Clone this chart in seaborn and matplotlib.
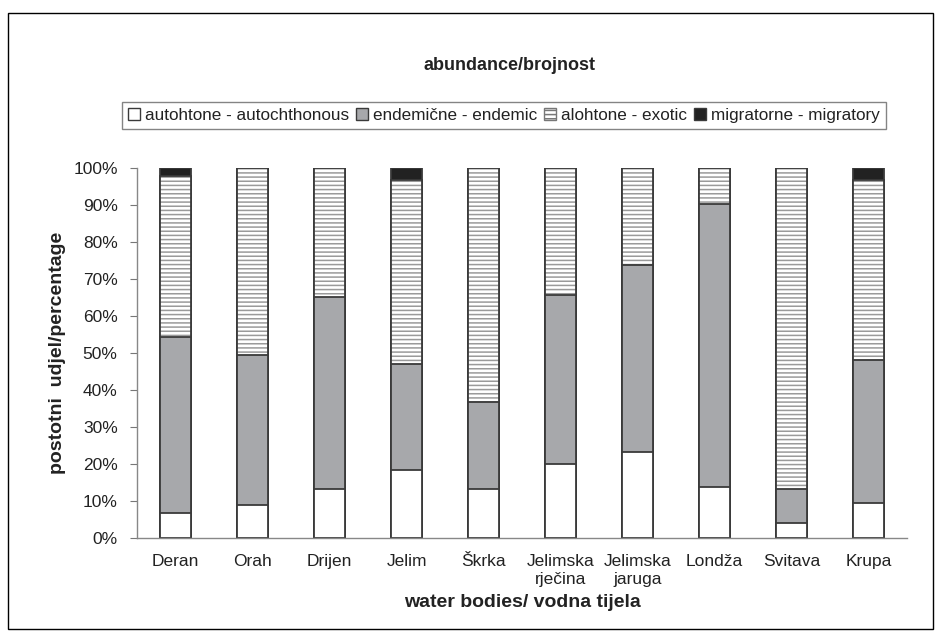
import numpy as np
import pandas as pd
import seaborn as sns
import matplotlib.pyplot as plt
from matplotlib.patches import Patch, Rectangle

# percentages (stacked, per water body)
sites = ['Deran', 'Orah', 'Drijen', 'Jelim', 'Škrka', 'Jelimska\nrječina',
         'Jelimska\njaruga', 'Londža', 'Svitava', 'Krupa']
autochthonous = [6.7, 8.9, 13.2, 18.4, 13.4, 20.2, 23.2, 13.9, 4.0, 9.4]
endemic = [47.7, 40.6, 52.0, 28.8, 23.4, 45.5, 50.6, 76.4, 9.4, 38.7]
exotic = [43.4, 50.5, 34.8, 49.6, 63.2, 34.3, 26.2, 9.7, 86.6, 48.7]
migratory = [2.2, 0.0, 0.0, 3.2, 0.0, 0.0, 0.0, 0.0, 0.0, 3.2]

legend_labels = ['autohtone - autochthonous', 'endemične - endemic',
                 'alohtone - exotic', 'migratorne - migratory']

df = pd.DataFrame({'site': sites, 'auto': autochthonous, 'end': endemic,
                   'exo': exotic, 'mig': migratory})
df['c_auto'] = df['auto']
df['c_end'] = df['c_auto'] + df['end']
df['c_exo'] = df['c_end'] + df['exo']
df['c_mig'] = df['c_exo'] + df['mig']

sns.set_style('white')
plt.rcParams['font.family'] = ['Liberation Sans', 'DejaVu Sans']
plt.rcParams['hatch.linewidth'] = 1.1

EDGE = '#3a3a3a'
TXT = '#222222'
fig = plt.figure(figsize=(9.39, 6.37), dpi=100)
ax = fig.add_axes([0.146, 0.155, 0.820, 0.581])

W = 0.41
# draw cumulative totals back to front so each layer covers the one below
sns.barplot(data=df, x='site', y='c_mig', color='#222222', width=W,
            edgecolor=EDGE, linewidth=1.3, saturation=1, ax=ax)
sns.barplot(data=df, x='site', y='c_exo', color='white', width=W,
            edgecolor='#9a9a9a', linewidth=0, hatch='----', saturation=1, ax=ax)
sns.barplot(data=df, x='site', y='c_exo', fill=False, width=W,
            edgecolor=EDGE, linewidth=1.3, ax=ax)
sns.barplot(data=df, x='site', y='c_end', color='#a7a8ab', width=W,
            edgecolor=EDGE, linewidth=1.3, saturation=1, ax=ax)
sns.barplot(data=df, x='site', y='c_auto', color='white', width=W,
            edgecolor=EDGE, linewidth=1.3, saturation=1, ax=ax)

ax.set_xlim(-0.5, len(sites) - 0.5)
ax.set_ylim(0, 100)
ax.set_yticks(np.arange(0, 101, 10))
ax.set_yticklabels([f'{v}%' for v in range(0, 101, 10)], fontsize=12.5, color=TXT)
ax.set_xticks(range(len(sites)))
ax.set_xticklabels(sites, fontsize=12.5, linespacing=1.3, color=TXT)
ax.set_xticks(np.arange(-0.5, len(sites), 1), minor=True)
ax.tick_params(axis='x', which='major', length=0, pad=11)
ax.tick_params(axis='x', which='minor', length=5, color='#777777', direction='out')
ax.tick_params(axis='y', length=5, color='#777777', direction='out', left=True, pad=9)

for s in ['top', 'right']:
    ax.spines[s].set_visible(False)
for s in ['left', 'bottom']:
    ax.spines[s].set_color('#888888')
    ax.spines[s].set_linewidth(1.0)

ax.set_xlabel('water bodies/ vodna tijela', fontsize=14, fontweight='bold',
              labelpad=5, color=TXT)
ax.set_ylabel('postotni  udjel/percentage', fontsize=14, fontweight='bold',
              labelpad=5, color=TXT)

fig.text(0.543, 0.897, 'abundance/brojnost', ha='center', va='center',
         fontsize=13, fontweight='bold', color=TXT)

handles = [Patch(facecolor='white', edgecolor=EDGE),
           Patch(facecolor='#a7a8ab', edgecolor=EDGE),
           Patch(facecolor='white', edgecolor='#777777', hatch='----'),
           Patch(facecolor='#222222', edgecolor=EDGE)]
leg = fig.legend(handles, legend_labels, loc='center', ncol=4,
                 bbox_to_anchor=(0.537, 0.818), fontsize=12.3, frameon=True,
                 fancybox=False, edgecolor='#666666', handlelength=0.7,
                 handleheight=0.7, handletextpad=0.3, columnspacing=0.4,
                 borderpad=0.35)
leg.get_frame().set_linewidth(1.0)
for t in leg.get_texts():
    t.set_color(TXT)

fig.patches.append(Rectangle((0.008, 0.012), 0.986, 0.968, transform=fig.transFigure,
                             fill=False, edgecolor='black', linewidth=1.0))

fig.savefig('out.png', dpi=100)
